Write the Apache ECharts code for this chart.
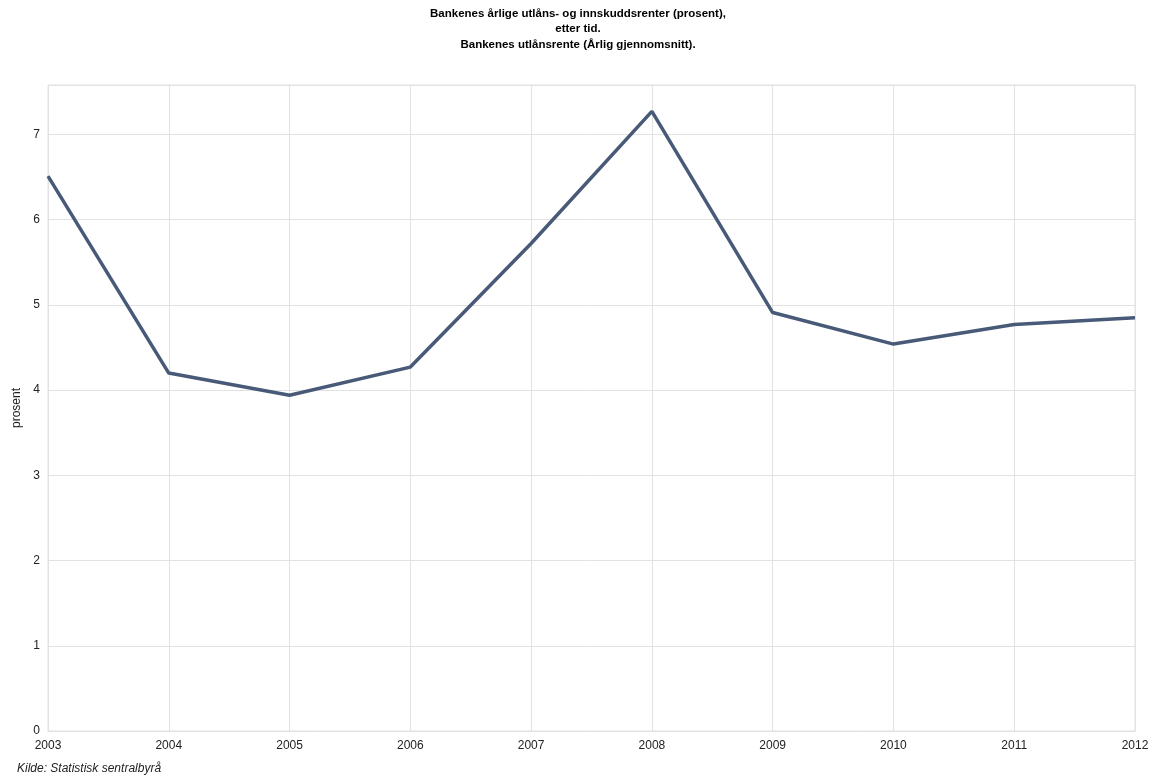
<!DOCTYPE html>
<html lang="no">
<head>
  <meta charset="utf-8">
  <title>Bankenes utlånsrente</title>
  <style>
    html, body { margin: 0; padding: 0; background: #fff; }
    #chart { width: 1156px; height: 778px; }
  </style>
</head>
<body>
  <div id="chart"></div>
  <script src="https://cdn.jsdelivr.net/npm/echarts@6/dist/echarts.min.js"></script>
  <script>
    // data
    var years = ['2003', '2004', '2005', '2006', '2007', '2008', '2009', '2010', '2011', '2012'];
    var utlansrente = [6.51, 4.20, 3.94, 4.27, 5.72, 7.27, 4.91, 4.54, 4.77, 4.85];
    var yTicks = [0, 1, 2, 3, 4, 5, 6, 7];

    var chart = echarts.init(document.getElementById('chart'));
    var font = 'Liberation Sans, Arial, sans-serif';

    var option = {
      animation: false,
      backgroundColor: '#fff',
      title: [{
        text: 'Bankenes årlige utlåns- og innskuddsrenter (prosent),\netter tid.\nBankenes utlånsrente (Årlig gjennomsnitt).',
        left: 'center',
        top: 1,
        textStyle: { fontFamily: font, fontSize: 11.5, fontWeight: 'bold', color: '#000', lineHeight: 15.5, align: 'center' }
      }, {
        text: 'Kilde: Statistisk sentralbyrå',
        left: 12,
        top: 758,
        textStyle: { fontFamily: font, fontSize: 12, fontStyle: 'italic', fontWeight: 'normal', color: '#222' }
      }],
      grid: { left: 48, right: 21, top: 85, bottom: 47, show: true, borderColor: '#e2e2e2', borderWidth: 1 },
      xAxis: {
        type: 'category',
        data: years,
        boundaryGap: false,
        axisLine: { lineStyle: { color: '#e2e2e2' } },
        axisTick: { show: false },
        axisLabel: { color: '#222', fontFamily: font, fontSize: 12, margin: 9, showMinLabel: true, showMaxLabel: true, interval: 0 },
        splitLine: { show: true, lineStyle: { color: '#e2e2e2', width: 1 } }
      },
      yAxis: {
        type: 'value',
        min: 0,
        max: 7.58,
        interval: 1,
        name: 'prosent',
        nameLocation: 'middle',
        nameRotate: 90,
        nameGap: 23,
        nameTextStyle: { color: '#222', fontFamily: font, fontSize: 12 },
        axisLine: { show: false },
        axisTick: { show: false },
        axisLabel: {
          color: '#222', fontFamily: font, fontSize: 12, margin: 8,
          formatter: function (v) { return yTicks.indexOf(v) >= 0 ? String(v) : ''; }
        },
        splitLine: { lineStyle: { color: '#e2e2e2', width: 1 } }
      },
      series: [{
        name: 'Bankenes utlånsrente',
        type: 'line',
        data: utlansrente,
        symbol: 'none',
        lineStyle: { color: '#485a78', width: 3.5 }
      }]
    };
    chart.setOption(option);
  </script>
</body>
</html>
